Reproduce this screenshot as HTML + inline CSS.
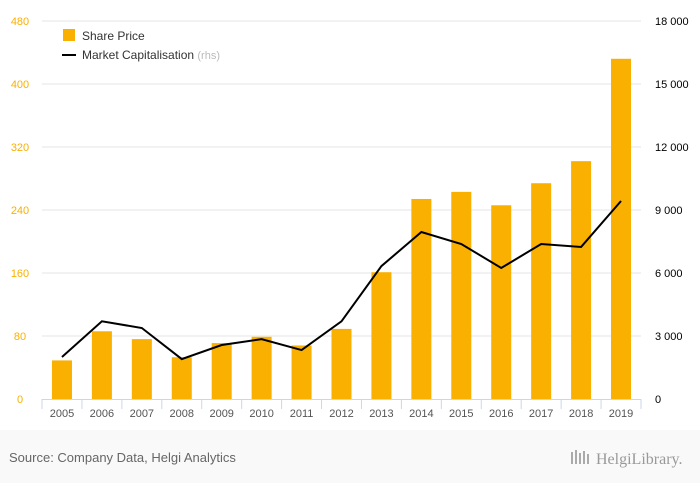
<!DOCTYPE html>
<html><head><meta charset="utf-8"><style>
body{margin:0;width:700px;height:483px;background:#fff;font-family:"Liberation Sans",sans-serif;overflow:hidden}
#footer{position:absolute;left:0;top:432px;width:700px;height:51px;background:#f9f9f9}
</style></head><body>
<svg id="chart" width="700" height="483" style="position:absolute;left:0;top:0">
<rect x="0" y="430" width="700" height="53" fill="#f9f9f9"/>
<g id="grid"></g><g id="bars"></g><g id="line"></g><g id="axes"></g>
<g>
<rect x="63" y="29" width="12" height="12" fill="#f9b000"/>
<text x="82" y="40" font-size="12" fill="#333">Share Price</text>
<line x1="62" y1="55" x2="76" y2="55" stroke="#000" stroke-width="2"/>
<text x="82" y="59" font-size="12" fill="#333">Market Capitalisation <tspan fill="#bbb" font-size="11">(rhs)</tspan></text>
</g>
<text x="9" y="462" font-size="13" fill="#666">Source: Company Data, Helgi Analytics</text>
<text x="596" y="464" font-size="16" fill="#999" font-family="Liberation Serif,serif">HelgiLibrary.</text>
<g fill="#aaa"><rect x="571" y="452" width="2" height="12"/><rect x="575" y="450" width="2" height="14"/><rect x="579" y="453" width="2" height="11"/><rect x="583" y="451" width="2" height="13"/><rect x="587" y="454" width="2" height="10"/></g>
</svg>
<script>
const categories=["2005","2006","2007","2008","2009","2010","2011","2012","2013","2014","2015","2016","2017","2018","2019"];
const sharePrice=[49,86,76,53,71,79,68,89,161,254,263,246,274,302,432];
const marketCap=[2000,3700,3380,1900,2570,2850,2330,3700,6330,7950,7380,6240,7380,7240,9430];
const leftTicks=[0,80,160,240,320,400,480];
const rightTicks=[0,3000,6000,9000,12000,15000,18000];
const rightLabels=["0","3 000","6 000","9 000","12 000","15 000","18 000"];
const NS="http://www.w3.org/2000/svg";
const x0=42,x1=641,y0=399,y1=21;
const step=(x1-x0)/categories.length;
const xc=i=>x0+step*(i+0.5);
const yl=v=>y0-(v/480)*(y0-y1);
const yr=v=>y0-(v/18000)*(y0-y1);
function mk(tag,attrs,parent){const e=document.createElementNS(NS,tag);for(const k in attrs)e.setAttribute(k,attrs[k]);parent.appendChild(e);return e;}
const grid=document.getElementById('grid'),axes=document.getElementById('axes');
leftTicks.forEach((t,i)=>{
  const y=yl(t);
  if(t>0){const g=mk('line',{x1:x0,x2:x1,y1:y,y2:y,stroke:'#e6e6e6'},grid);
  
  }
  const a=mk('text',{x:20,y:y+4,'font-size':11,fill:'#f9b000','text-anchor':'middle'},axes);a.textContent=t;
  
  
  const b=mk('text',{x:655,y:yr(rightTicks[i])+4,'font-size':11,fill:'#000'},axes);b.textContent=rightLabels[i];
  
  
});
const bars=document.getElementById('bars');
sharePrice.forEach((v,i)=>{
  const r=mk('rect',{x:xc(i)-10,y:yl(v),width:20,height:y0-yl(v),fill:'#f9b000'},bars);
  
  
});
const pl=mk('polyline',{points:marketCap.map((v,i)=>xc(i)+','+yr(v)).join(' '),fill:'none',stroke:'#000','stroke-width':2},document.getElementById('line'));


const ax=mk('line',{x1:x0,x2:x1,y1:y0+0.5,y2:y0+0.5,stroke:'#ccd6eb'},axes);


for(let i=0;i<=categories.length;i++){const t=mk('line',{x1:x0+step*i,x2:x0+step*i,y1:y0,y2:y0+10,stroke:'#ccd6eb'},axes);

}
categories.forEach((c,i)=>{const t=mk('text',{x:xc(i),y:y0+18,'font-size':11,fill:'#555','text-anchor':'middle'},axes);t.textContent=c;

});
</script>
</body></html>
